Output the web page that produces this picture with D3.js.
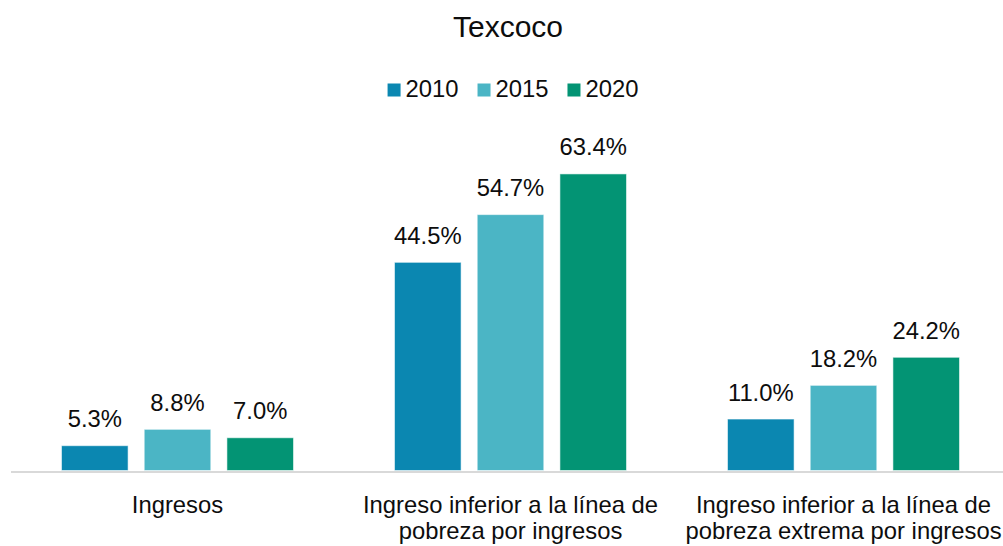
<!DOCTYPE html>
<html>
<head>
<meta charset="utf-8">
<script src="https://cdn.jsdelivr.net/npm/d3@7"></script>
<style>
  html, body { margin: 0; padding: 0; background: #fff; }
  svg { display: block; font-family: "Liberation Sans", Arial, sans-serif; }
</style>
</head>
<body>
<svg id="chart" width="1003" height="546"></svg>
<script>
// Income poverty indicators for Texcoco, by census year
const title = "Texcoco";
const years = ["2010", "2015", "2020"];
const categories = [
  "Ingresos",
  "Ingreso inferior a la línea de pobreza por ingresos",
  "Ingreso inferior a la línea de pobreza extrema por ingresos"
];
const categoryLines = [
  ["Ingresos"],
  ["Ingreso inferior a la línea de", "pobreza por ingresos"],
  ["Ingreso inferior a la línea de", "pobreza extrema por ingresos"]
];
const values2010 = [5.3, 44.5, 11.0];
const values2015 = [8.8, 54.7, 18.2];
const values2020 = [7.0, 63.4, 24.2];
const colors = ["#0b87b1", "#4bb5c5", "#039474"];

const seriesValues = [values2010, values2015, values2020];
const rows = categories.map((c, i) => ({
  category: c,
  lines: categoryLines[i],
  bars: years.map((y, j) => ({ year: y, value: seriesValues[j][i], color: colors[j] }))
}));

const svg = d3.select("#chart");
const baseY = 470.5;
const textColor = "#0d0d0d";
const fontSize = 23.8;

const x0 = d3.scaleBand()
  .domain(categories)
  .range([11, 1010])
  .paddingInner(0.3033)
  .paddingOuter(0.3033 / 2);

const x1 = d3.scaleBand()
  .domain(years)
  .range([0, x0.bandwidth()])
  .paddingInner(0.195)
  .paddingOuter(0);

const y = d3.scaleLinear()
  .domain([0, 70])
  .range([baseY, baseY - 70 * 4.678]);

// Title
svg.append("text")
  .attr("x", 508)
  .attr("y", 36.5)
  .attr("text-anchor", "middle")
  .attr("font-size", 30)
  .attr("fill", textColor)
  .text(title);

// Legend
const legend = svg.append("g");
const items = legend.selectAll("g.item")
  .data(years)
  .join("g")
  .attr("class", "item");
items.append("rect")
  .attr("width", 13)
  .attr("height", 13)
  .attr("y", 83.5)
  .attr("fill", (d, i) => colors[i]);
items.append("text")
  .attr("x", 18)
  .attr("y", 97)
  .attr("font-size", fontSize)
  .attr("fill", textColor)
  .text(d => d);
let cursor = 0;
const offsets = [];
items.each(function () {
  offsets.push(cursor);
  const w = 18 + d3.select(this).select("text").node().getComputedTextLength();
  cursor += w + 19;
});
const legendWidth = cursor - 19;
const legendStart = 513 - legendWidth / 2;
items.attr("transform", (d, i) => `translate(${legendStart + offsets[i]},0)`);

// Bars and value labels
const groups = svg.append("g")
  .selectAll("g.group")
  .data(rows)
  .join("g")
  .attr("class", "group")
  .attr("transform", d => `translate(${x0(d.category)},0)`);

groups.selectAll("rect")
  .data(d => d.bars)
  .join("rect")
  .attr("x", d => x1(d.year))
  .attr("y", d => y(d.value))
  .attr("width", x1.bandwidth())
  .attr("height", d => baseY - y(d.value))
  .attr("fill", d => d.color)
  .attr("stroke", "#ffffff")
  .attr("stroke-opacity", 0.55)
  .attr("stroke-width", 1);

groups.selectAll("text.value")
  .data(d => d.bars)
  .join("text")
  .attr("class", "value")
  .attr("x", d => x1(d.year) + x1.bandwidth() / 2)
  .attr("y", d => y(d.value) - 18.5)
  .attr("text-anchor", "middle")
  .attr("font-size", fontSize)
  .attr("fill", textColor)
  .text(d => d3.format(".1f")(d.value) + "%");

// Category axis line
svg.append("line")
  .attr("x1", x0.range()[0])
  .attr("x2", 1003)
  .attr("y1", 472)
  .attr("y2", 472)
  .attr("stroke", "#d9d9d9")
  .attr("stroke-width", 2);

// Category labels
const labels = svg.append("g")
  .selectAll("text.cat")
  .data(rows)
  .join("text")
  .attr("class", "cat")
  .attr("x", d => x0(d.category) + x0.bandwidth() / 2)
  .attr("y", 512.5)
  .attr("text-anchor", "middle")
  .attr("font-size", fontSize)
  .attr("fill", textColor);
labels.selectAll("tspan")
  .data(d => d.lines.map(l => ({ line: l, cx: x0(d.category) + x0.bandwidth() / 2 })))
  .join("tspan")
  .attr("x", d => d.cx)
  .attr("dy", (d, i) => i === 0 ? 0 : 26)
  .text(d => d.line);
</script>
</body>
</html>
